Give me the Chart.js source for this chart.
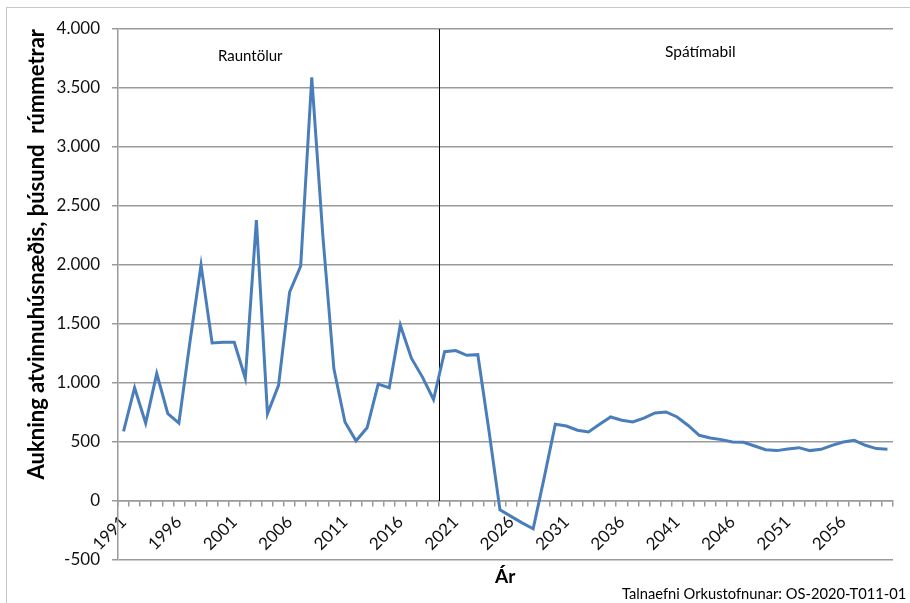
<!DOCTYPE html>
<html>
<head>
<meta charset="utf-8">
<script src="https://cdn.jsdelivr.net/npm/chart.js@4"></script>
<style>
    body { margin: 0; background: #fff; }
    #wrap { position: relative; width: 910px; height: 603px; overflow: hidden; }
    #frame { position: absolute; left: 6px; top: 7px; width: 920px; height: 620px; border-left: 1px solid #c8c8c8; border-top: 1px solid #c8c8c8; }
    #myChart { position: absolute; left: 0; top: 0; }
    .note { position: absolute; font-family: Lato, sans-serif; color: #000; white-space: nowrap; line-height: 1; }
</style>
</head>
<body>
<div id="wrap">
    <div id="frame"></div>
    <canvas id="myChart" width="910" height="603"></canvas>
    <div class="note" style="left:218px; top:48px; font-size:15px">Rauntölur</div>
    <div class="note" style="left:665px; top:44px; font-size:15.5px">Spátímabil</div>
    <div class="note" style="left:495px; top:566px; font-size:19px; font-weight:bold">Ár</div>
    <div class="note" style="left:622px; top:586px; font-size:14.7px">Talnaefni Orkustofnunar: OS-2020-T011-01</div>
</div>
<script>
// Years on the category axis
var years = ['1991', '1992', '1993', '1994', '1995', '1996', '1997', '1998', '1999', '2000',
             '2001', '2002', '2003', '2004', '2005', '2006', '2007', '2008', '2009', '2010',
             '2011', '2012', '2013', '2014', '2015', '2016', '2017', '2018', '2019', '2020',
             '2021', '2022', '2023', '2024', '2025', '2026', '2027', '2028', '2029', '2030',
             '2031', '2032', '2033', '2034', '2035', '2036', '2037', '2038', '2039', '2040',
             '2041', '2042', '2043', '2044', '2045', '2046', '2047', '2048', '2049', '2050',
             '2051', '2052', '2053', '2054', '2055', '2056', '2057', '2058', '2059', '2060'];

// Increase in commercial floor space, thousand m3
var increase = [590, 960, 660, 1080, 740, 660, 1350, 2000, 1340, 1345,
                1345, 1040, 2380, 740, 980, 1770, 1990, 3590, 2250, 1120,
                670, 510, 620, 990, 960, 1490, 1210, 1050, 860, 1265,
                1275, 1235, 1240, 600, -75, -130, -185, -235, 200, 650,
                635, 600, 585, 650, 712, 685, 670, 703, 746, 755,
                712, 640, 557, 534, 520, 500, 497, 466, 435, 427,
                441, 452, 427, 438, 472, 500, 514, 472, 444, 438];

// Which year labels are printed under the axis
var shownYears = ['1991', '1996', '2001', '2006', '2011', '2016', '2021', '2026',
                  '2031', '2036', '2041', '2046', '2051', '2056'];

// Y axis range
var yMin = -500;
var yMax = 4000;
var yStep = 500;

// Last year of actual figures, the divider goes right after it
var lastActualYear = '2019';

function formatThousands(v) {
    var s = String(Math.abs(v)).replace(/\B(?=(\d{3})+(?!\d))/g, '.');
    return (v < 0 ? '-' : '') + s;
}

// Black line between actual figures and forecast
var dividerPlugin = {
    id: 'divider',
    beforeDatasetsDraw: function(chart) {
        var ctx = chart.ctx;
        var x = chart.scales.x;
        var y = chart.scales.y;
        var i = years.indexOf(lastActualYear);
        var px = Math.round((x.getPixelForValue(i) + x.getPixelForValue(i + 1)) / 2) + 0.5;
        ctx.save();
        ctx.strokeStyle = '#000';
        ctx.lineWidth = 1;
        ctx.beginPath();
        ctx.moveTo(px, chart.chartArea.top);
        ctx.lineTo(px, y.getPixelForValue(0));
        ctx.stroke();
        ctx.restore();
    }
};

var gridColor = '#9a9a9a';

var ctx = document.getElementById('myChart');
var myChart = new Chart(ctx, {
    type: 'line',
    data: {
        labels: years,
        datasets: [{
            data: increase,
            borderColor: '#4a7ebb',
            borderWidth: 3,
            pointRadius: 0,
            tension: 0,
            fill: false
        }]
    },
    options: {
        responsive: false,
        animation: false,
        devicePixelRatio: 1,
        events: [],
        layout: {
            padding: { left: 16, top: 29, right: 17, bottom: 43 }
        },
        plugins: {
            legend: { display: false },
            tooltip: { enabled: false }
        },
        scales: {
            x: {
                position: { y: 0 },
                offset: true,
                grid: {
                    offset: true,
                    drawOnChartArea: false,
                    drawTicks: true,
                    tickLength: 5,
                    color: gridColor,
                    lineWidth: 1.5
                },
                border: { display: true, color: gridColor, width: 1.5 },
                ticks: {
                    autoSkip: false,
                    minRotation: 45,
                    maxRotation: 45,
                    padding: 6,
                    color: '#111',
                    font: { family: 'Lato', size: 17 },
                    callback: function(value) {
                        var label = this.getLabelForValue(value);
                        return shownYears.indexOf(label) >= 0 ? label : '';
                    }
                },
                afterFit: function(scale) {
                    scale.height = 0;
                }
            },
            y: {
                min: yMin,
                max: yMax,
                grid: {
                    color: gridColor,
                    lineWidth: 1.5,
                    tickLength: 6
                },
                border: { color: gridColor, width: 1.5 },
                ticks: {
                    stepSize: yStep,
                    padding: 12,
                    color: '#111',
                    font: { family: 'Lato', size: 17 },
                    callback: function(value) {
                        return formatThousands(value);
                    }
                },
                title: {
                    display: true,
                    text: 'Aukning atvinnuhúsnæðis, þúsund  rúmmetrar',
                    align: 'end',
                    color: '#000',
                    font: { family: 'Lato', size: 22, weight: 'bold' },
                    padding: { top: 8, bottom: 0 }
                },
                afterFit: function(scale) {
                    scale.width = 102;
                }
            }
        }
    },
    plugins: [dividerPlugin]
});
</script>
</body>
</html>
